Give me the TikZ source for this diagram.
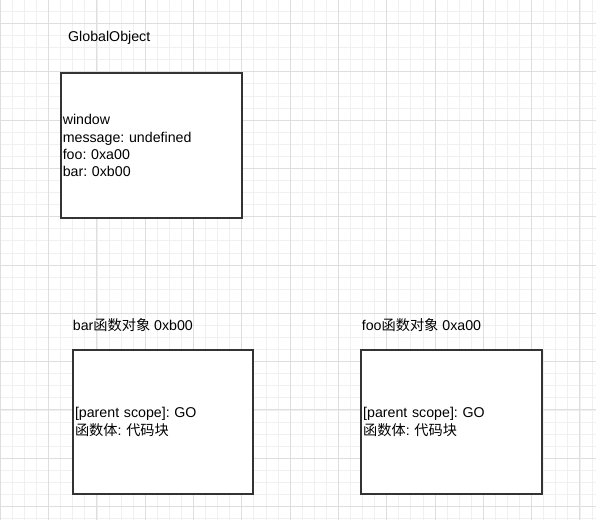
\documentclass[tikz,border=0pt]{standalone}
\usepackage{fontspec}
\setmainfont{Liberation Sans}
\newfontfamily\cjkfont{Noto Sans CJK SC}
\newcommand{\zh}[1]{{\cjkfont #1}}
\frenchspacing

\definecolor{gridminor}{HTML}{F0F0F0}
\definecolor{gridmajor}{HTML}{DEDEDE}
\definecolor{boxline}{HTML}{333333}

\tikzset{
  minorline/.style={gridminor, line width=0.8pt},
  majorline/.style={gridmajor, line width=1pt},
  title/.style={anchor=base west, inner sep=0pt, font=\fontsize{14.2}{17}\selectfont},
  objbox/.style={draw=boxline, line width=1.6pt, fill=white, inner xsep=2pt, inner ysep=0pt,
    align=left, font=\fontsize{14.2}{17.3}\selectfont},
}

\begin{document}
\begin{tikzpicture}[x=1pt,y=-1pt]
    \useasboundingbox (0,0) rectangle (596,520);
    \fill[white] (0,0) rectangle (596,520);
    % grid
    \foreach \i in {0,...,49}
      \draw[minorline] (0.3+\i*12.075,0) -- ++(0,520);
    \foreach \j in {-2,...,41}
      \draw[minorline] (0,23.5+\j*12.075) -- ++(596,0);
    \foreach \i in {0,...,12}
      \draw[majorline] (0.3+\i*48.3,0) -- ++(0,520);
    \foreach \j in {-1,...,10}
      \draw[majorline] (0,23.5+\j*48.3) -- ++(596,0);

    \node[objbox, text width=177pt, minimum height=145pt] (globalobj) at (151.3,145.7)
      {window\\message: undefined\\foo: 0xa00\\bar: 0xb00};
    \node[objbox, text width=176pt, minimum height=144pt] (barfn) at (163,422)
      {[parent scope]: GO\\\zh{函数体}: \zh{代码块}};
    \node[objbox, text width=177pt, minimum height=144pt] (foofn) at (451.7,422)
      {[parent scope]: GO\\\zh{函数体}: \zh{代码块}};

    \node[title] (gotitle) at (68,41.7) {GlobalObject};
    \node[title] (bartitle) at (72.7,330) {bar\zh{函数对象} 0xb00};
    \node[title] (footitle) at (361.7,330) {foo\zh{函数对象} 0xa00};
  \end{tikzpicture}
\end{document}
